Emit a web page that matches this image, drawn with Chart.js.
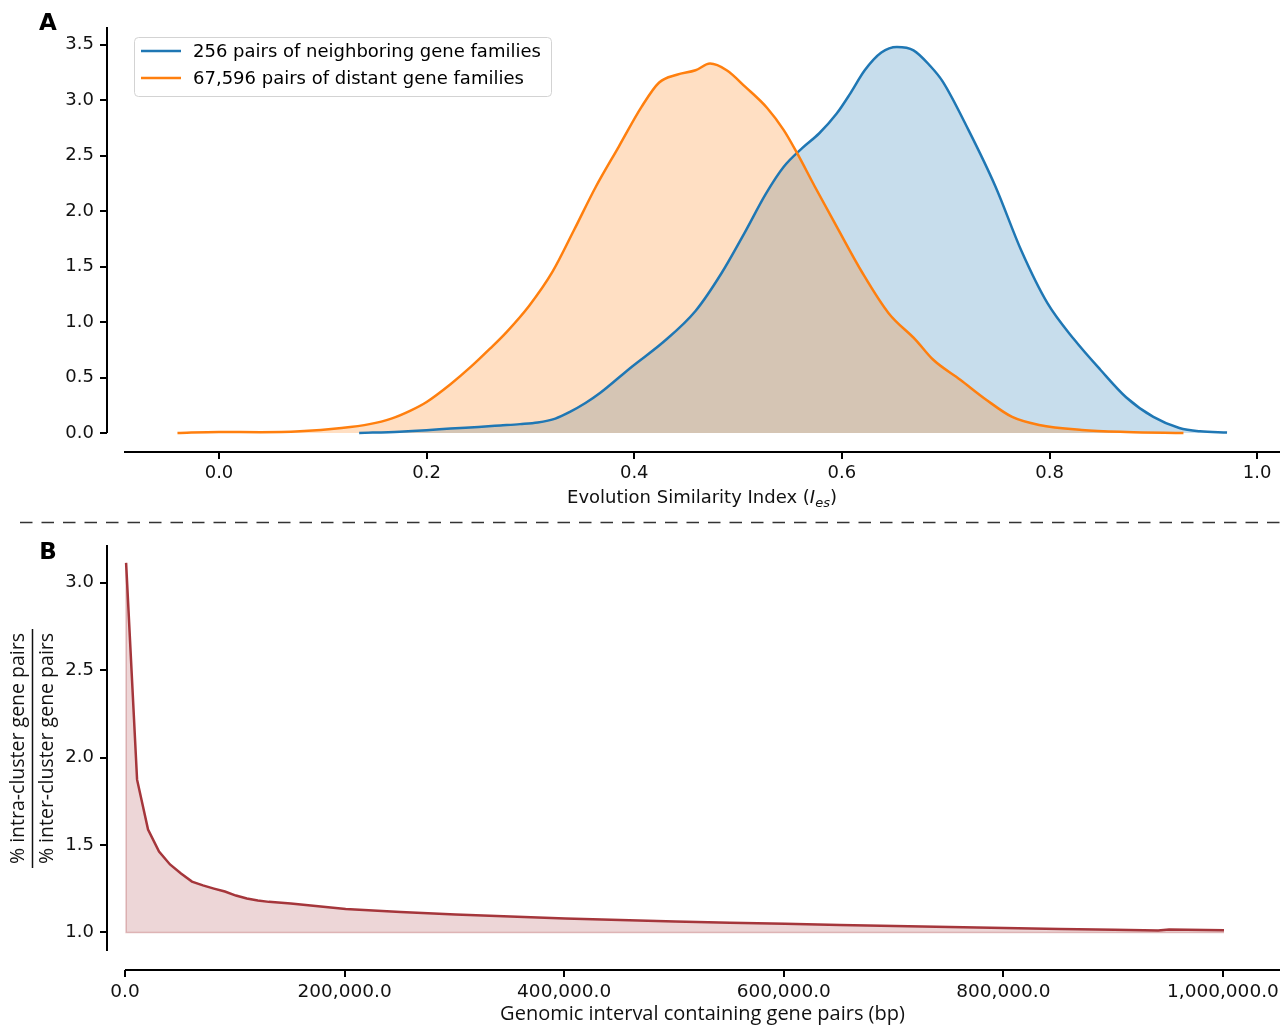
<!DOCTYPE html>
<html lang="en">
<head>
<meta charset="utf-8">
<title>Evolution similarity of neighboring gene families</title>
<script src="https://cdn.jsdelivr.net/npm/chart.js@4.4.1/dist/chart.umd.min.js"></script>
<style>
    html, body { margin: 0; padding: 0; background: #fff; }
    #figure { position: relative; width: 1288px; height: 1026px; }
    #chartA { position: absolute; left: 0; top: 0; }
    #chartB { position: absolute; left: 0; top: 530px; }
</style>
</head>
<body>
<div id="figure">
    <canvas id="chartA" width="1288" height="530"></canvas>
    <canvas id="chartB" width="1288" height="496"></canvas>
</div>
<script>
// ---- パネルA: 進化類似度指数の分布 ----
const neighborLabel = '256 pairs of neighboring gene families';
const neighborX = [0.135, 0.174, 0.2, 0.223, 0.25, 0.271, 0.29, 0.307, 0.324, 0.338, 0.353, 0.367, 0.398, 0.428,
    0.459, 0.484, 0.506, 0.527, 0.544, 0.562, 0.578, 0.595, 0.608, 0.622, 0.638, 0.653, 0.669, 0.685, 0.697,
    0.722, 0.748, 0.773, 0.798, 0.824, 0.849, 0.874, 0.9, 0.925, 0.945, 0.971];
const neighborY = [0.0, 0.012, 0.025, 0.04, 0.055, 0.068, 0.08, 0.095, 0.13, 0.19, 0.27, 0.36, 0.6, 0.82,
    1.1, 1.44, 1.8, 2.16, 2.4, 2.57, 2.7, 2.88, 3.06, 3.27, 3.43, 3.48, 3.45, 3.31, 3.17,
    2.73, 2.22, 1.64, 1.17, 0.84, 0.57, 0.32, 0.145, 0.045, 0.015, 0.005];

const distantLabel = '67,596 pairs of distant gene families';
const distantX = [-0.04, 0.0, 0.04, 0.078, 0.118, 0.145, 0.166, 0.184, 0.2, 0.223, 0.243, 0.261, 0.277, 0.299,
    0.321, 0.342, 0.363, 0.385, 0.407, 0.424, 0.441, 0.459, 0.473, 0.489, 0.507, 0.528, 0.544, 0.557, 0.574,
    0.595, 0.62, 0.645, 0.671, 0.688, 0.714, 0.739, 0.764, 0.79, 0.831, 0.874, 0.929];
const distantY = [0.0, 0.01, 0.007, 0.015, 0.045, 0.08, 0.13, 0.2, 0.28, 0.44, 0.6, 0.76, 0.91, 1.15,
    1.45, 1.83, 2.22, 2.58, 2.94, 3.16, 3.23, 3.27, 3.33, 3.27, 3.12, 2.93, 2.73, 2.52, 2.22,
    1.86, 1.44, 1.08, 0.84, 0.66, 0.48, 0.3, 0.145, 0.072, 0.027, 0.009, 0.0];

const ticksAX = [0.0, 0.2, 0.4, 0.6, 0.8, 1.0];
const ticksAY = [0.0, 0.5, 1.0, 1.5, 2.0, 2.5, 3.0, 3.5];

// ---- パネルB: ゲノム区間ごとの比率 ----
const intervalX = [1000, 11000, 21000, 31000, 41000, 51000, 61000, 71000, 81000, 91000, 101000, 111000,
    121000, 131000, 151000, 201000, 251000, 301000, 351000, 401000, 451000, 501000, 551000, 601000,
    651000, 701000, 751000, 801000, 851000, 901000, 941000, 951000, 1001000];
const ratioY = [3.114, 1.874, 1.589, 1.463, 1.389, 1.337, 1.291, 1.269, 1.251, 1.234, 1.211, 1.194,
    1.183, 1.175, 1.166, 1.134, 1.117, 1.103, 1.092, 1.08, 1.072, 1.063, 1.056, 1.05,
    1.043, 1.037, 1.031, 1.026, 1.02, 1.015, 1.011, 1.017, 1.013];

const ticksBX = [0, 200000, 400000, 600000, 800000, 1000000];
const ticksBY = [1.0, 1.5, 2.0, 2.5, 3.0];

const BLUE = '#1f77b4';
const ORANGE = '#ff7f0e';
const RED = '#a5363b';
const TITLE_FAMILY = '"Open Sans"';

Chart.defaults.color = '#111';
Chart.defaults.animation = false;

const toPoints = (xs, ys) => xs.map((x, i) => ({ x: x, y: ys[i] }));

// ずらした軸線と目盛り線（seaborn の despine(offset) 風）
const offsetSpines = {
    id: 'offsetSpines',
    afterDraw(chart, args, opts) {
        const { ctx, chartArea: area, scales } = chart;
        const sx = area.left - opts.yOffset;
        const sy = area.bottom + opts.xOffset;
        ctx.save();
        ctx.strokeStyle = '#000';
        ctx.lineWidth = 2;
        ctx.beginPath();
        ctx.moveTo(sx, area.top);
        ctx.lineTo(sx, area.bottom);
        ctx.moveTo(area.left, sy);
        ctx.lineTo(area.right, sy);
        scales.y.ticks.forEach(t => {
            const p = Math.round(scales.y.getPixelForValue(t.value));
            ctx.moveTo(sx, p);
            ctx.lineTo(sx - 7, p);
        });
        scales.x.ticks.forEach(t => {
            const p = Math.round(scales.x.getPixelForValue(t.value));
            ctx.moveTo(p, sy);
            ctx.lineTo(p, sy + 7);
        });
        ctx.stroke();
        ctx.restore();
    }
};

// パネルA: 凡例・x軸タイトル・ラベル・区切り線
const panelADecor = {
    id: 'panelADecor',
    afterDraw(chart) {
        const ctx = chart.ctx;
        ctx.save();
        ctx.fillStyle = '#000';
        ctx.font = 'bold 23px "DejaVu Sans"';
        ctx.textAlign = 'center';
        ctx.textBaseline = 'middle';
        ctx.fillText('A', 48, 24);

        // 凡例
        ctx.beginPath();
        ctx.roundRect(134.5, 37.5, 417, 59, 4);
        ctx.fillStyle = 'rgba(255,255,255,0.8)';
        ctx.fill();
        ctx.strokeStyle = '#d3d3d3';
        ctx.lineWidth = 1;
        ctx.stroke();
        ctx.font = '18px "DejaVu Sans"';
        ctx.textAlign = 'left';
        chart.data.datasets.forEach((ds, i) => {
            const y = 51 + i * 27;
            ctx.strokeStyle = ds.borderColor;
            ctx.lineWidth = 2.5;
            ctx.beginPath();
            ctx.moveTo(141, y);
            ctx.lineTo(181, y);
            ctx.stroke();
            ctx.fillStyle = '#000';
            ctx.fillText(ds.label, 193, y + 1);
        });

        // x軸タイトル（I_es は斜体の下付き）
        const parts = [
            { t: 'Evolution Similarity Index (', f: '18px "DejaVu Sans"', dy: 0 },
            { t: 'I', f: 'italic 18px "DejaVu Sans"', dy: 0 },
            { t: 'es', f: 'italic 13px "DejaVu Sans"', dy: 4 },
            { t: ')', f: '18px "DejaVu Sans"', dy: 0 }
        ];
        let total = 0;
        parts.forEach(p => { ctx.font = p.f; p.w = ctx.measureText(p.t).width; total += p.w; });
        const area = chart.chartArea;
        let x = (area.left + area.right) / 2 - total / 2;
        ctx.textBaseline = 'alphabetic';
        ctx.fillStyle = '#111';
        parts.forEach(p => {
            ctx.font = p.f;
            ctx.fillText(p.t, x, 503 + p.dy);
            x += p.w;
        });

        // 区切りの破線
        ctx.setLineDash([12.5, 9]);
        ctx.strokeStyle = '#333';
        ctx.lineWidth = 1.5;
        ctx.beginPath();
        ctx.moveTo(20, 522.5);
        ctx.lineTo(1288, 522.5);
        ctx.stroke();
        ctx.restore();
    }
};

// パネルB: 分数形式のy軸タイトルとラベル
const panelBDecor = {
    id: 'panelBDecor',
    afterDraw(chart) {
        const ctx = chart.ctx;
        ctx.save();
        ctx.fillStyle = '#000';
        ctx.font = 'bold 23px "DejaVu Sans"';
        ctx.textAlign = 'center';
        ctx.textBaseline = 'middle';
        ctx.fillText('B', 48, 23.5);

        ctx.translate(32, 218.5);
        ctx.rotate(-Math.PI / 2);
        ctx.fillStyle = '#111';
        ctx.font = '19.5px ' + TITLE_FAMILY;
        ctx.fillText('% intra-cluster gene pairs', 0, -14);
        ctx.fillText('% inter-cluster gene pairs', 0, 15);
        ctx.strokeStyle = '#111';
        ctx.lineWidth = 1.5;
        ctx.beginPath();
        ctx.moveTo(-119.5, 0.5);
        ctx.lineTo(119.5, 0.5);
        ctx.stroke();
        ctx.restore();
    }
};

function tickAxis(ticks, fmt, padding, size) {
    return {
        afterBuildTicks: s => { s.ticks = ticks.map(v => ({ value: v })); },
        grid: { display: false, drawTicks: false },
        border: { display: false },
        ticks: {
            font: { family: 'DejaVu Sans', size: size },
            color: '#111',
            padding: padding,
            maxRotation: 0,
            minRotation: 0,
            autoSkip: false,
            callback: fmt
        }
    };
}

// 軸の大きさを固定し、ラベルのはみ出し分の余白を消す
const fixX = h => s => { s.height = h; s.paddingLeft = 0; s.paddingRight = 0; };
const fixY = w => s => { s.width = w; s.paddingTop = 0; s.paddingBottom = 0; };

const fixed1 = v => Number(v).toFixed(1);

// ---- パネルA ----
const xA = tickAxis(ticksAX, fixed1, 30, 18);
Object.assign(xA, { type: 'linear', min: -0.0915, max: 1.022, afterFit: fixX(97) });
const yA = tickAxis(ticksAY, fixed1, 30, 18);
Object.assign(yA, { type: 'linear', min: 0, max: 3.66, afterFit: fixY(124) });

new Chart(document.getElementById('chartA'), {
    type: 'line',
    data: {
        datasets: [
            {
                label: neighborLabel,
                data: toPoints(neighborX, neighborY),
                borderColor: BLUE,
                backgroundColor: 'rgba(31,119,180,0.25)',
                borderWidth: 2.5,
                fill: 'origin',
                order: 2
            },
            {
                label: distantLabel,
                data: toPoints(distantX, distantY),
                borderColor: ORANGE,
                backgroundColor: 'rgba(255,127,14,0.25)',
                borderWidth: 2.5,
                fill: 'origin',
                order: 1
            }
        ]
    },
    options: {
        responsive: false,
        clip: false,
        cubicInterpolationMode: 'monotone',
        elements: { point: { radius: 0 } },
        layout: { padding: { top: 27, right: 8, left: 0, bottom: 0 } },
        scales: { x: xA, y: yA },
        plugins: {
            legend: { display: false },
            tooltip: { enabled: false },
            filler: { drawTime: 'beforeDatasetsDraw' },
            offsetSpines: { xOffset: 19, yOffset: 17 }
        }
    },
    plugins: [offsetSpines, panelADecor]
});

// ---- パネルB ----
const fmtBp = v => Number(v).toLocaleString('en-US', { minimumFractionDigits: 1, maximumFractionDigits: 1 });
const xB = tickAxis(ticksBX, fmtBp, 30, 18.5);
Object.assign(xB, {
    type: 'linear', min: 0, max: 1052000,
    afterFit: fixX(75),
    title: {
        display: true,
        text: 'Genomic interval containing gene pairs (bp)',
        font: { family: 'Open Sans', size: 20 },
        color: '#111',
        padding: { top: 0, bottom: 0 }
    }
});
const yB = tickAxis(ticksBY, fixed1, 31, 18);
Object.assign(yB, { type: 'linear', min: 0.894, max: 3.216, afterFit: fixY(125) });

const lastX = intervalX[intervalX.length - 1];

new Chart(document.getElementById('chartB'), {
    type: 'line',
    data: {
        datasets: [
            {
                label: 'ratio',
                data: toPoints(intervalX, ratioY),
                borderColor: RED,
                backgroundColor: 'rgba(166,52,56,0.2)',
                borderWidth: 2.5,
                fill: { value: 1 },
                order: 1
            },
            {
                // 塗りの縁取り（左端と基準線 1.0）
                label: 'edge',
                data: [
                    { x: intervalX[0], y: ratioY[0] },
                    { x: intervalX[0], y: 1 },
                    { x: lastX, y: 1 }
                ],
                borderColor: 'rgba(166,52,56,0.3)',
                borderWidth: 1.5,
                fill: false,
                order: 2
            }
        ]
    },
    options: {
        responsive: false,
        clip: false,
        elements: { point: { radius: 0 }, line: { tension: 0 } },
        layout: { padding: { top: 15, right: 8, left: 0, bottom: 0 } },
        scales: { x: xB, y: yB },
        plugins: {
            legend: { display: false },
            tooltip: { enabled: false },
            filler: { drawTime: 'beforeDatasetsDraw' },
            offsetSpines: { xOffset: 19, yOffset: 18 }
        }
    },
    plugins: [offsetSpines, panelBDecor]
});
</script>
</body>
</html>
